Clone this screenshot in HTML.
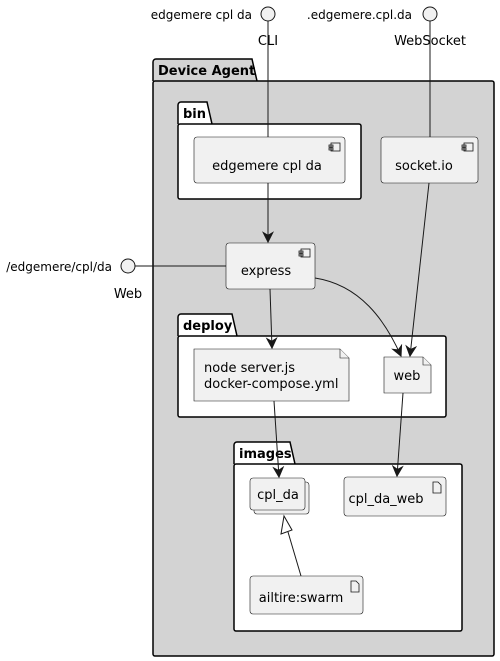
<!DOCTYPE html>
<html><head><meta charset="utf-8"><style>body{margin:0;background:#fff}svg{display:block}text{font-family:"DejaVu Sans","Liberation Sans",sans-serif}</style></head><body>
<svg width="500" height="661" viewBox="0 0 500 661" xmlns="http://www.w3.org/2000/svg">
<defs><marker id="a" viewBox="0 0 10 10" refX="9" refY="5" markerWidth="12" markerHeight="12" markerUnits="userSpaceOnUse" orient="auto"><path d="M0,0 L10,5 L0,10 L3,5Z" fill="#181818"/></marker></defs>
<path d="M153,81 V62 a3,3 0 0 1 3,-3 H252 L257,81" fill="#d3d3d3" stroke="#000" stroke-width="1.5"/>
<rect x="153" y="81" width="341" height="575" rx="2" fill="#d3d3d3" stroke="#000" stroke-width="1.5"/>
<text x="158" y="75" font-size="13" font-weight="bold">Device Agent</text>
<path d="M178,124 V105 a3,3 0 0 1 3,-3 H207 L212,124" fill="#fff" stroke="#000" stroke-width="1.5"/>
<rect x="178" y="124" width="183" height="75" rx="2" fill="#fff" stroke="#000" stroke-width="1.5"/>
<text x="183" y="118" font-size="13" font-weight="bold">bin</text>
<path d="M178,336 V317 a3,3 0 0 1 3,-3 H232 L237,336" fill="#fff" stroke="#000" stroke-width="1.5"/>
<rect x="178" y="336" width="268" height="81" rx="2" fill="#fff" stroke="#000" stroke-width="1.5"/>
<text x="183" y="330" font-size="13" font-weight="bold">deploy</text>
<path d="M234,464 V445 a3,3 0 0 1 3,-3 H290 L295,464" fill="#fff" stroke="#000" stroke-width="1.5"/>
<rect x="234" y="464" width="228" height="167" rx="2" fill="#fff" stroke="#000" stroke-width="1.5"/>
<text x="239" y="458" font-size="13" font-weight="bold">images</text>
<circle cx="268" cy="14" r="7" fill="#f1f1f1" stroke="#181818"/>
<text x="252" y="19" font-size="12" text-anchor="end">edgemere cpl da</text>
<text x="268" y="45" font-size="13" text-anchor="middle">CLI</text>
<circle cx="430" cy="14" r="7" fill="#f1f1f1" stroke="#181818"/>
<text x="412" y="19" font-size="12" text-anchor="end">.edgemere.cpl.da</text>
<text x="430" y="45" font-size="13" text-anchor="middle">WebSocket</text>
<circle cx="128" cy="266" r="7" fill="#f1f1f1" stroke="#181818"/>
<text x="112" y="271" font-size="12" text-anchor="end">/edgemere/cpl/da</text>
<text x="128" y="298" font-size="13" text-anchor="middle">Web</text>
<g stroke="#181818" fill="none">
<line x1="268" y1="21" x2="268" y2="137"/>
<line x1="430" y1="21" x2="430" y2="137"/>
<line x1="135" y1="266" x2="226" y2="266"/>
<line x1="268" y1="183" x2="268" y2="242" marker-end="url(#a)"/>
<line x1="429" y1="183" x2="410" y2="356" marker-end="url(#a)"/>
<path d="M315,278 C360,285 385,320 401,356" marker-end="url(#a)"/>
<line x1="270" y1="289" x2="272" y2="348" marker-end="url(#a)"/>
<line x1="274" y1="401" x2="279" y2="477" marker-end="url(#a)"/>
<line x1="403" y1="393" x2="397" y2="476" marker-end="url(#a)"/>
<line x1="301" y1="576" x2="288" y2="532"/>
<path d="M284,516 L281,534 L292,530Z" fill="#fff"/>
</g>
<g fill="#f1f1f1" stroke="#181818" stroke-width="0.6">
<rect x="194" y="137" width="151" height="46" rx="3"/>
<rect x="381" y="137" width="97" height="46" rx="3"/>
<rect x="226" y="243" width="89" height="46" rx="3"/>
<path d="M194,349 H340 L349,358 V401 H194Z"/><path d="M340,349 V358 H349"/>
<path d="M384,357 H423 L431,365 V393 H384Z"/><path d="M423,357 V365 H431"/>
<rect x="254" y="482" width="55" height="32" rx="3"/>
<rect x="250" y="478" width="55" height="32" rx="3"/>
<rect x="344" y="477" width="102" height="39" rx="3"/>
<rect x="250" y="576" width="113" height="38" rx="3"/>
</g>
<g fill="none" stroke="#181818" stroke-width="0.8">
<rect x="331" y="143" width="9" height="8"/><rect x="329" y="145" width="4" height="2"/><rect x="329" y="148" width="4" height="2"/>
<rect x="464" y="143" width="9" height="8"/><rect x="462" y="145" width="4" height="2"/><rect x="462" y="148" width="4" height="2"/>
<rect x="301" y="249" width="9" height="8"/><rect x="299" y="251" width="4" height="2"/><rect x="299" y="254" width="4" height="2"/>
<path d="M433,482 h5 l3,3 v8 h-8z"/>
<path d="M351,581 h5 l3,3 v8 h-8z"/>
</g>
<g font-size="13" fill="#000">
<text x="267" y="170" text-anchor="middle">edgemere cpl da</text>
<text x="424" y="170" text-anchor="middle">socket.io</text>
<text x="266" y="275" text-anchor="middle">express</text>
<text x="204" y="372">node server.js</text>
<text x="204" y="388">docker-compose.yml</text>
<text x="407" y="380" text-anchor="middle">web</text>
<text x="278" y="499" text-anchor="middle">cpl_da</text>
<text x="386" y="503" text-anchor="middle">cpl_da_web</text>
<text x="301" y="602" text-anchor="middle">ailtire:swarm</text>
</g>
</svg>
</body></html>
